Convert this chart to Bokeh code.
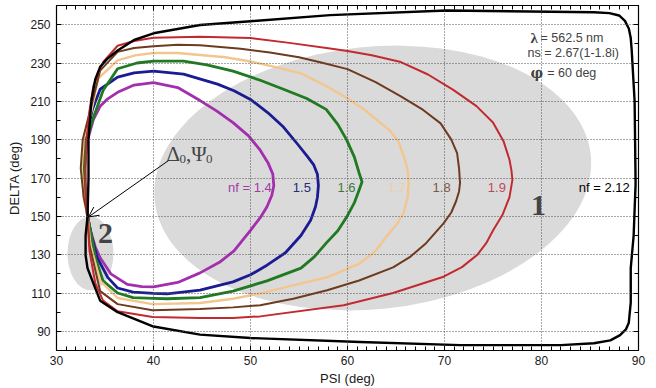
import numpy as np
from bokeh.plotting import figure
from bokeh.models import (Range1d, FixedTicker, LinearAxis, Arrow, OpenHead, Label,
                          CustomLabelingPolicy)
from bokeh.core.properties import value
from bokeh.embed import file_html
from bokeh.resources import INLINE

# ---------------- data ----------------
x_ticks = [30, 40, 50, 60, 70, 80, 90]
x_minor = list(range(30, 91))
y_ticks = [90, 110, 130, 150, 170, 190, 210, 230, 250]
y_minor = list(range(80, 261, 10))

psi_14 = [33.2, 33.5, 34.0, 34.5, 35.6, 37.3, 38.8, 40.0, 42.5, 44.8, 46.8, 48.3, 50.0, 51.1, 51.7, 52.2, 52.4, 52.3, 51.8, 51.0, 49.8, 48.2, 46.5, 44.8, 42.5, 40.0, 38.0, 36.3, 35.2, 34.5, 33.8, 33.1, 32.9, 33.0, 33.2]
delta_14 = [150, 142.6, 134, 128.4, 120, 114.5, 113.3, 113.2, 115.5, 120.5, 126, 132, 142.7, 150, 155, 161, 166, 172, 178, 184.5, 192, 198.9, 205, 210.4, 217.2, 219.8, 218.5, 214.7, 211, 207.4, 200.5, 188, 175, 160, 150]

psi_15 = [33.2, 33.6, 34.2, 35.3, 36.3, 37.9, 40.0, 41.4, 44.8, 48.2, 50.0, 51.7, 53.6, 55.2, 56.2, 56.7, 56.9, 57.0, 56.9, 56.5, 55.9, 54.8, 53.4, 51.8, 50.0, 48.3, 46.6, 43.1, 40.0, 38.0, 36.3, 34.5, 33.7, 33.0, 32.8, 33.0, 33.2]
delta_15 = [150, 140, 128.4, 118, 112.6, 110.5, 109.8, 109.6, 111.5, 115.8, 119.5, 124.5, 131, 140, 148, 155, 160, 166, 172, 177, 181, 188, 196.6, 204, 211, 215.5, 219, 224.2, 225.8, 224.8, 222.6, 216.3, 205.8, 190, 175, 160, 150]

psi_16 = [33.2, 33.6, 34.0, 34.8, 36.3, 37.9, 40.0, 41.4, 44.8, 48.2, 51.7, 55.2, 56.6, 57.8, 59.0, 59.9, 60.7, 61.2, 61.5, 61.2, 60.7, 59.9, 59.0, 57.8, 55.8, 53.4, 51.0, 48.2, 45.5, 43.1, 40.0, 38.3, 36.3, 34.8, 33.7, 33.0, 32.8, 33.0, 33.2]
delta_16 = [150, 140, 128.4, 116.3, 110.0, 107.6, 107.2, 107.0, 107.6, 111.0, 116.3, 123.0, 129, 136.0, 142.5, 149.5, 157, 163.7, 168.0, 172.6, 181, 190.0, 198, 205.8, 211.5, 216.3, 221, 225.8, 229, 231.0, 231.0, 230.0, 227.0, 215.7, 200.0, 188, 175, 160, 150]

psi_17 = [33.2, 33.5, 34.5, 36.3, 39.9, 44.8, 48.2, 51.0, 54.4, 57.9, 61.3, 62.9, 64.1, 65.1, 65.8, 66.2, 66.3, 66.2, 65.9, 65.2, 64.3, 63.1, 61.8, 60.0, 57.8, 55.2, 52.5, 50.0, 47.4, 44.8, 42.5, 40.0, 38.1, 36.3, 34.3, 33.6, 32.8, 32.6, 32.8, 33.2]
delta_17 = [150, 135, 116.3, 107.4, 104.2, 104.8, 107, 109.8, 114, 118.2, 125.5, 132, 140, 146, 152, 160, 167, 174, 180, 189.6, 195, 200, 205.5, 211.6, 218, 224.6, 228, 230.8, 233, 234.2, 235.2, 235.2, 234, 231.4, 222, 205, 190, 175, 160, 150]

psi_18 = [33.2, 33.4, 34.5, 36.3, 39.9, 44.8, 48.2, 51.0, 54.4, 57.9, 61.2, 64.7, 66.5, 68.1, 69.9, 70.7, 71.2, 71.5, 71.6, 71.5, 71.3, 70.7, 69.6, 67.8, 65.5, 62.9, 60.0, 57.5, 55.0, 52.0, 49.0, 44.8, 42.5, 40.0, 38.0, 36.3, 34.5, 33.6, 32.7, 32.5, 32.8, 33.2]
delta_18 = [150, 135, 111, 104.2, 101, 101.6, 102.5, 103.6, 107, 111.4, 116.5, 123.4, 129, 136, 146.3, 152, 158, 163, 167.4, 175, 183, 190, 198.5, 205.5, 212.6, 220, 226.8, 230, 233, 235.5, 237.4, 239.3, 239.5, 238.8, 237.8, 235.8, 226, 208, 190, 175, 160, 150]

psi_19 = [33.2, 33.4, 34.0, 34.8, 36.3, 39.9, 44.8, 48.2, 51.0, 59.6, 64.7, 69.9, 71.8, 73.4, 74.3, 75.0, 76.0, 76.7, 77.0, 76.9, 76.7, 76.1, 75.0, 73.3, 70.9, 68.3, 65.5, 62.5, 60.0, 58.2, 54.0, 50.0, 44.8, 40.0, 38.0, 36.3, 34.8, 33.8, 33.4, 33.1, 33.0, 33.0, 33.2]
delta_19 = [150, 132, 115, 106, 100.5, 97.5, 97.0, 97.0, 97.8, 103.6, 110, 118.5, 123.5, 130, 136, 142.6, 151, 160, 169, 174, 179.5, 189, 199, 207.5, 216, 224, 230.5, 234, 236.3, 237.6, 240.5, 243, 243.7, 243.2, 241.5, 239, 230.5, 218, 205, 190, 175, 160, 150]

psi_212 = [33.2, 33.0, 33.0, 33.2, 34.0, 34.5, 36.3, 40.0, 44.8, 50.0, 61.3, 71.6, 82.0, 85.4, 87.1, 88.1, 88.7, 89.0, 89.2, 89.2, 89.5, 89.7, 89.6, 89.3, 89.2, 89.0, 88.6, 88.0, 87.0, 85.4, 70.2, 58.2, 50.0, 44.8, 40.0, 38.0, 36.3, 35.2, 34.5, 34.0, 33.6, 33.3, 33.3, 33.2]
delta_212 = [150, 140, 129.7, 122.9, 112.4, 106, 100, 92.5, 88.3, 86.5, 84.4, 82.8, 82.8, 83.8, 85.3, 88, 91, 94.5, 105, 123, 140, 167, 210, 236.6, 243, 248, 252, 254.8, 256, 256.5, 257.4, 255, 251.8, 249.8, 245.5, 242, 236.5, 232, 228, 221.5, 210.5, 190, 170, 150]

curve_psi = [psi_14, psi_15, psi_16, psi_17, psi_18, psi_19, psi_212]
curve_delta = [delta_14, delta_15, delta_16, delta_17, delta_18, delta_19, delta_212]
curve_colors = ["#a42fae", "#1c1c92", "#1f7a22", "#f2c68e", "#6e3b1e", "#c22a30", "#000000"]
curve_widths = [2.8, 2.8, 2.8, 2.4, 2.0, 2.0, 2.4]

label_psi = [52.2, 55.3, 59.9, 65.1, 69.7, 75.4, 89.1]
label_delta = [164.8, 164.8, 164.8, 164.8, 164.8, 164.8, 164.8]
label_text = ["nf = 1.4", "1.5", "1.6", "1.7", "1.8", "1.9", "nf = 2.12"]
label_colors = ["#a23ba8", "#242c7c", "#3c7a3c", "#ecd0a6", "#7d5a48", "#c0485a", "#000000"]
label_align = ["right", "center", "center", "center", "center", "center", "right"]

# ---------------- figure ----------------
p = figure(width=656, height=388, x_range=Range1d(30, 90), y_range=Range1d(80, 260),
           output_backend="svg", toolbar_location=None,
           min_border_left=56, min_border_right=18, min_border_top=5, min_border_bottom=38)
p.background_fill_color = "white"
p.border_fill_color = "white"
p.outline_line_color = "black"
p.outline_line_width = 1.2

FONT = "Liberation Sans"

HIDE_LABELS = """
try {
  const out = indices.clone();
  for (const i of Array.from(indices.ones())) { out.unset(i); }
  return out;
} catch (e) {
  return indices;
}
"""

def style_axis(ax, ticks, minor, show_labels=True):
    ax.ticker = FixedTicker(ticks=ticks, minor_ticks=minor)
    ax.axis_line_color = "black"
    ax.major_tick_line_color = "black"
    ax.minor_tick_line_color = "black"
    ax.major_tick_in = 5
    ax.major_tick_out = 0
    ax.minor_tick_in = 4
    ax.minor_tick_out = 0
    ax.major_label_text_font = FONT
    ax.major_label_text_color = "#1a1a1a"
    if show_labels:
        ax.major_label_text_font_size = "12px"
    else:
        ax.major_label_text_font_size = "1px"
        ax.major_label_standoff = 0
        ax.major_label_policy = CustomLabelingPolicy(code=HIDE_LABELS)

xa = p.xaxis[0]
style_axis(xa, x_ticks, x_minor)
xa.major_label_standoff = 5
xa.axis_label = "PSI (deg)"
xa.axis_label_text_font = FONT
xa.axis_label_text_font_size = "13px"
xa.axis_label_text_font_style = "normal"
xa.axis_label_text_color = "#1a1a1a"
xa.axis_label_standoff = 3

ya = p.yaxis[0]
style_axis(ya, y_ticks, y_minor)
ya.major_label_standoff = 6
ya.axis_label = "DELTA (deg)"
ya.axis_label_text_font = FONT
ya.axis_label_text_font_size = "13px"
ya.axis_label_text_font_style = "normal"
ya.axis_label_text_color = "#1a1a1a"
ya.axis_label_standoff = 5

top = LinearAxis()
style_axis(top, x_ticks, x_minor, show_labels=False)
p.add_layout(top, "above")
right = LinearAxis()
style_axis(right, y_ticks, y_minor, show_labels=False)
p.add_layout(right, "right")

p.xgrid[0].ticker = FixedTicker(ticks=x_ticks)
p.ygrid[0].ticker = FixedTicker(ticks=y_ticks)
for g in (p.xgrid[0], p.ygrid[0]):
    g.grid_line_color = "#505050"
    g.grid_line_dash = "1 2"
    g.grid_line_width = 1
    g.level = "glyph"

# grey regions 1 and 2
p.ellipse(x=62.6, y=170, width=45.2, height=136.8, angle=0.105,
          fill_color="#dadada", line_color=None, level="underlay")
p.ellipse(x=33.5, y=130.7, width=4.74, height=38.6,
          fill_color="#dadada", line_color=None, level="underlay")

# curves
for xs, ys, c, w in zip(curve_psi, curve_delta, curve_colors, curve_widths):
    p.line(xs, ys, line_color=c, line_width=w, line_join="round")

# curve labels
p.text(x=label_psi, y=label_delta, text=label_text, text_color=label_colors,
       text_font=value(FONT), text_font_size="13px", text_align=label_align,
       text_baseline="middle")

# parameters
p.add_layout(Label(x=78.87, y=243.3, text="λ", text_font="Liberation Serif",
                   text_font_size="15px", text_font_style="bold", text_baseline="middle"))
p.add_layout(Label(x=79.9, y=243.3, text="= 562.5 nm", text_font=FONT,
                   text_font_size="12.5px", text_baseline="middle"))
p.add_layout(Label(x=78.56, y=235.0, text="ns = 2.67(1-1.8i)", text_font=FONT,
                   text_font_size="12.5px", text_baseline="middle"))
p.add_layout(Label(x=78.87, y=225.0, text="φ", text_font="DejaVu Serif",
                   text_font_size="14px", text_font_style="bold", text_baseline="middle"))
p.add_layout(Label(x=80.6, y=225.0, text="= 60 deg", text_font=FONT,
                   text_font_size="12.5px", text_baseline="middle"))

# region numbers
p.add_layout(Label(x=79.7, y=155.7, text="1", text_font="Liberation Serif",
                   text_font_size="30px", text_font_style="bold",
                   text_align="center", text_baseline="middle"))
p.add_layout(Label(x=35.05, y=141.1, text="2", text_font="Liberation Serif",
                   text_font_size="30px", text_font_style="bold",
                   text_align="center", text_baseline="middle"))

# Delta0, Psi0 annotation
p.add_layout(Label(x=41.34, y=182.3, text="Δ", text_font="Liberation Serif",
                   text_font_size="21px", text_baseline="alphabetic"))
p.add_layout(Label(x=42.68, y=180.0, text="0", text_font="Liberation Serif",
                   text_font_size="13px", text_baseline="alphabetic"))
p.add_layout(Label(x=43.35, y=182.3, text=",", text_font="Liberation Serif",
                   text_font_size="21px", text_baseline="alphabetic"))
p.add_layout(Label(x=43.9, y=182.3, text="Ψ", text_font="Liberation Serif",
                   text_font_size="21px", text_baseline="alphabetic"))
p.add_layout(Label(x=45.4, y=180.0, text="0", text_font="Liberation Serif",
                   text_font_size="13px", text_baseline="alphabetic"))

p.add_layout(Arrow(x_start=41.55, y_start=179.1, x_end=33.3, y_end=149.7,
                   line_color="black", line_width=1,
                   end=OpenHead(size=10, line_color="black", line_width=1)))

open("out.html", "w").write(file_html(p, INLINE))
